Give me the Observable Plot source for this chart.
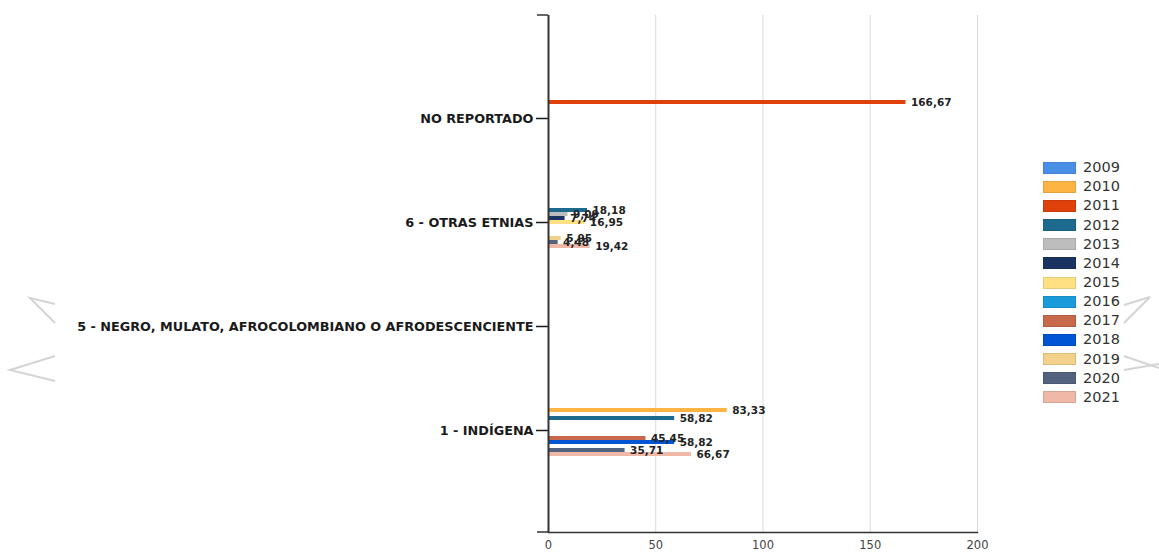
<!DOCTYPE html>
<html><head><meta charset="utf-8">
<script src="https://cdn.jsdelivr.net/npm/d3@7"></script>
<script src="https://cdn.jsdelivr.net/npm/@observablehq/plot@0.6"></script>
<style>
body{margin:0;background:#fff;}
#wrap{position:relative;width:1159px;height:552px;overflow:hidden;font-family:"DejaVu Sans",sans-serif;}
#legend{position:absolute;left:1043px;top:158px;}
.row{display:flex;align-items:center;height:19.17px;}
.sw{width:33px;height:12px;margin-right:7px;box-sizing:border-box;}
.lt{font-size:14.5px;color:#333;line-height:19px;}
#deco{position:absolute;left:0;top:0;pointer-events:none;}
</style></head><body><div id="wrap"></div>
<script>
const categories = [
  "NO REPORTADO",
  "6 - OTRAS ETNIAS",
  "5 - NEGRO, MULATO, AFROCOLOMBIANO O AFRODESCENCIENTE",
  "1 - INDÍGENA"
];
const years = ["2009","2010","2011","2012","2013","2014","2015","2016","2017","2018","2019","2020","2021"];
const colors = ["#4a8fe7","#fdb443","#e0400a","#1d6a8f","#bdbdbd","#1a3461","#ffe083","#1a9bdb","#c8694b","#0055d4","#f2d18a","#53627f","#f0b8a6"];
const xTicks = [0, 50, 100, 150, 200];

// values per category, one per year (null = no bar)
const valuesNoReportado = [null, null, 166.67, null, null, null, null, null, null, null, null, null, null];
const valuesOtrasEtnias = [null, null, null, 18.18, 9.09, 7.74, 16.95, null, null, null, 5.95, 4.48, 19.42];
const valuesNegro       = [null, null, null, null, null, null, null, null, null, null, null, null, null];
const valuesIndigena    = [null, 83.33, null, 58.82, null, null, null, null, 45.45, 58.82, null, 35.71, 66.67];
const seriesByCategory = [valuesNoReportado, valuesOtrasEtnias, valuesNegro, valuesIndigena];

const data = [];
categories.forEach((c, ci) => years.forEach((y, yi) => {
  const v = seriesByCategory[ci][yi];
  if (v != null) data.push({category: c, year: y, value: v, key: c + "|" + y});
}));

// y domain: one band per (category, year) with a gap group between categories
const yDomain = [];
categories.forEach((c, ci) => {
  if (ci > 0) years.forEach(y => yDomain.push("gap" + ci + "|" + y));
  years.forEach(y => yDomain.push(c + "|" + y));
});
const midYear = years[Math.floor(years.length / 2)];
const yTicks = categories.map(c => c + "|" + midYear);
const fmt = v => v.toFixed(2).replace(".", ",");

const chart = Plot.plot({
  width: 1159, height: 552,
  marginLeft: 548, marginRight: 182, marginTop: 15, marginBottom: 20,
  style: {fontFamily: "DejaVu Sans", background: "transparent", overflow: "visible"},
  x: {domain: [0, 200], axis: null},
  y: {domain: yDomain, paddingInner: 0.05, paddingOuter: 19.1, axis: null},
  color: {domain: years, range: colors},
  marks: [
    Plot.gridX(xTicks, {stroke: "#d9d9d9", strokeOpacity: 1}),
    Plot.axisX(xTicks, {tickSize: 0, tickPadding: 8, fontSize: 11.5, color: "#444", label: null}),
    Plot.barX(data, {x: "value", y: "key", fill: "year"}),
    Plot.text(data, {x: "value", y: "key", text: d => fmt(d.value), textAnchor: "start", dx: 5, fontWeight: "bold", fontSize: 10.5, fill: "#222"}),
    Plot.axisY(yTicks, {tickSize: 12, tickPadding: 3, tickFormat: k => k.split("|")[0], fontWeight: "bold", fontSize: 12.8, color: "#1a1a1a", strokeWidth: 1.5, label: null}),
    Plot.ruleX([0], {stroke: "#333", strokeWidth: 2}),
    Plot.frame({anchor: "bottom", stroke: "#333", strokeWidth: 1.5})
  ]
});
const wrap = document.getElementById("wrap");
wrap.appendChild(chart);

// legend
const legend = document.createElement("div");
legend.id = "legend";
years.forEach((y, i) => {
  const row = document.createElement("div");
  row.className = "row";
  const sw = document.createElement("div");
  sw.className = "sw";
  sw.style.background = colors[i];
  sw.style.border = "1px solid " + d3.color(colors[i]).darker(0.3);
  const t = document.createElement("span");
  t.className = "lt";
  t.textContent = y;
  row.appendChild(sw); row.appendChild(t);
  legend.appendChild(row);
});
wrap.appendChild(legend);

// decorative carousel chevrons and axis stubs
const ns = "http://www.w3.org/2000/svg";
const deco = document.createElementNS(ns, "svg");
deco.setAttribute("id", "deco");
deco.setAttribute("width", 1159);
deco.setAttribute("height", 552);
deco.innerHTML = `
<g fill="none" stroke="#d4d4d4" stroke-width="2">
<polyline points="55,304 30,298 55,323"/>
<polyline points="55,356 10,370 55,381"/>
<polyline points="1124,305 1150,297 1124,323"/>
<line x1="1124" y1="356" x2="1159" y2="368"/>
<line x1="1124" y1="370" x2="1159" y2="364"/>
</g>
<g stroke="#333" stroke-width="1.5">
<line x1="537" y1="15" x2="548" y2="15"/>
<line x1="537" y1="532" x2="548" y2="532"/>
</g>`;
wrap.appendChild(deco);
</script>
</body></html>
